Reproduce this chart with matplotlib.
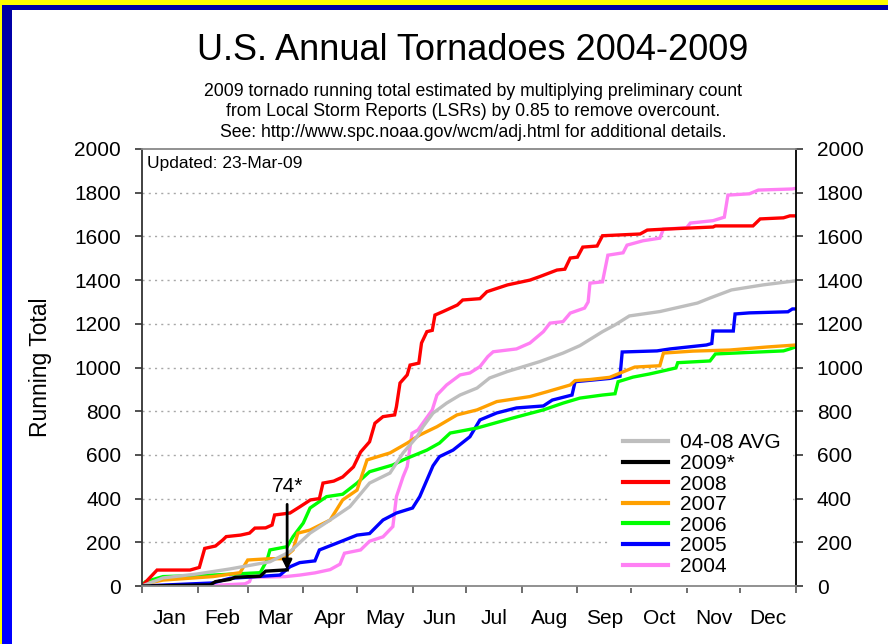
import numpy as np
import matplotlib
matplotlib.use("Agg")
import matplotlib.pyplot as plt
from matplotlib.patches import Rectangle
from matplotlib.colors import LinearSegmentedColormap

# ---------------- data (day of year, running total) ----------------
months = ["Jan", "Feb", "Mar", "Apr", "May", "Jun", "Jul", "Aug", "Sep", "Oct", "Nov", "Dec"]
month_starts = [0, 31, 59, 90, 120, 151, 181, 212, 243, 273, 304, 334, 365]
yticks = [0, 200, 400, 600, 800, 1000, 1200, 1400, 1600, 1800, 2000]

d2008 = [0, 8.4, 26.8, 32, 35, 41, 45, 47, 55, 60, 63, 69, 72.6, 74, 82.6, 88, 94, 99, 101, 107, 112, 118, 122,
         127, 130, 134.5, 141, 142, 144, 148, 149.6, 154.5, 156, 159, 162, 163.5, 168, 176, 179, 188.6, 192.5,
         204, 216.5, 222, 231.6, 236, 239, 243, 246, 254, 257, 278, 282, 291, 318.7, 320, 341, 345, 358, 361.6, 365]
v2008 = [0, 73, 73, 85, 172, 183, 210, 226, 233, 242, 265, 266, 279, 325, 334, 362, 394, 400, 471, 480, 499, 545, 613,
         660, 745, 775, 783, 821, 929, 966, 1011, 1020, 1112, 1164, 1170, 1240, 1256, 1286, 1309, 1315, 1347,
         1378, 1400, 1416, 1446, 1450, 1501, 1505, 1551, 1556, 1603, 1611, 1629, 1633, 1643, 1648, 1648, 1680, 1685, 1694, 1694]

d2004 = [0, 40.7, 57.5, 60, 61, 80, 88, 96.5, 105, 110.5, 113, 122, 127, 134.5, 140, 142, 145.7, 148, 150.7, 154,
         158, 162, 164.6, 170, 177.5, 183, 188.6, 193, 196, 209, 216.5, 224, 227.7, 235, 239, 247, 249, 250, 257,
         260, 268.5, 270.7, 279.6, 289, 291, 304, 306, 318.7, 325, 327, 339, 344, 362.8, 365]
v2004 = [0, 3, 10, 20, 40, 43, 50, 60, 75, 100, 150, 165, 205, 225, 272, 409, 500, 546, 699, 714,
         760, 806, 874, 920, 966, 975, 1004, 1050, 1072, 1085, 1112, 1164, 1203, 1210, 1249, 1272, 1300, 1386, 1392,
         1514, 1525, 1560, 1580, 1592, 1633, 1640, 1661, 1672, 1688, 1789, 1795, 1812, 1817, 1820]

davg = [0, 11.7, 30.7, 49, 71.4, 82.6, 93.8, 105, 116, 127, 138.4, 145.7, 153.5, 156.8, 162.4, 170, 177.5, 187,
        194, 203.7, 222, 235, 244.4, 257, 264, 272, 289, 310, 317, 329, 346.6, 365]
vavg = [0, 37, 55, 78, 111, 157, 242, 302, 363, 471, 517, 609, 683, 729, 791, 837, 874, 906,
        952, 981, 1027, 1066, 1100, 1164, 1195, 1236, 1256, 1295, 1318, 1355, 1378, 1397]

d2007 = [0, 4.5, 11.7, 39.6, 54.7, 59, 71.4, 78.7, 84.3, 87, 93.8, 105, 112, 120, 125.6, 138.4, 148, 155, 164.6,
         175.8, 187, 198, 216.5, 226, 239, 241.7, 250, 261, 275, 289, 291, 307.5, 328, 349, 365]
v2007 = [0, 15, 27, 43, 61, 119, 125, 125, 165, 242, 256, 302, 394, 439, 577, 609, 654, 691, 729,
         783, 806, 844, 867, 889, 920, 940, 945, 955, 1002, 1008, 1066, 1075, 1080, 1094, 1103]

d2006 = [0, 2, 11.7, 39.6, 66, 69.8, 71.4, 81, 84.3, 90, 93.8, 103, 112, 120, 127, 140, 145.7, 159, 166, 172,
         187, 207, 224, 235, 244.4, 257, 264, 265.7, 274, 283, 289, 298, 299, 317, 320, 358, 361.6, 365]
v2006 = [5, 20, 43, 50, 61, 119, 165, 180, 226, 288, 357, 409, 420, 471, 523, 554, 577, 622, 654, 700,
         723, 769, 806, 837, 860, 874, 880, 935, 956, 970, 981, 998, 1022, 1030, 1062, 1076, 1085, 1095]

d2005 = [0, 39.6, 49, 64, 77, 82.6, 88, 96.5, 99, 109, 120, 127, 134.5, 142, 151, 155, 159, 162.4, 166, 173.6,
         183, 188.6, 198, 209, 224, 229, 240, 241.7, 252, 261, 266.8, 268, 287.4, 294.7, 315, 318, 318.7, 330,
         331, 339, 360.5, 363, 365]
v2005 = [0, 14, 35, 43, 50, 88, 107, 115, 165, 197, 233, 240, 302, 334, 357, 409, 485, 550, 592, 622,
         683, 760, 792, 815, 824, 851, 874, 935, 943, 950, 960, 1071, 1076, 1085, 1103, 1110, 1167, 1167,
         1245, 1250, 1255, 1268, 1268]

d2009 = [0, 38, 41, 49, 52, 66, 69, 75, 81]
v2009 = [0, 5, 20, 30, 40, 45, 68, 71, 74]

series = [
    ("2004", d2004, v2004, "#FF80F4"),
    ("2005", d2005, v2005, "#0000FF"),
    ("2006", d2006, v2006, "#00FF00"),
    ("2007", d2007, v2007, "#FFA000"),
    ("2008", d2008, v2008, "#FF0000"),
    ("04-08 AVG", davg, vavg, "#BEBEBE"),
    ("2009*", d2009, v2009, "#000000"),
]
legend_order = ["04-08 AVG", "2009*", "2008", "2007", "2006", "2005", "2004"]

# ---------------- figure ----------------
W, H = 888, 644
fig = plt.figure(figsize=(W / 100, H / 100), dpi=100)
fig.patch.set_facecolor("white")

sans = ["Liberation Sans", "DejaVu Sans"]

ax = fig.add_axes([142 / W, (H - 586) / H, (796 - 142) / W, (586 - 149) / H])
ax.set_axisbelow(True)

handles = {}
for name, d, v, c in series:
    ln, = ax.plot(d, v, color=c, lw=2.4, label=name, solid_joinstyle="miter", zorder=2)
    handles[name] = ln

ax.set_xlim(0, 365)
ax.set_ylim(0, 2000)
ax.set_yticks(yticks)
ax.set_yticklabels([str(t) for t in yticks], family=sans, fontsize=15)
ax.set_xticks(month_starts)
ax.set_xticklabels([])
mids = [(month_starts[i] + month_starts[i + 1]) / 2 for i in range(12)]
ax.set_xticks(mids, minor=True)
ax.set_xticklabels(months, minor=True, family=sans, fontsize=15)
ax.tick_params(axis="x", which="minor", length=0, pad=16.5)
ax.tick_params(axis="x", which="major", length=5, width=1.2, color="#555555", direction="out")
ax.tick_params(axis="y", which="major", length=5, width=1.2, color="#333333", direction="out",
               left=True, right=True, labelleft=True, labelright=True, pad=10)
for lab in ax.get_yticklabels(which="both"):
    lab.set_family(sans)
ax.grid(axis="y", linestyle=(0, (1.5, 3)), color="#A8A8A8", lw=1.0)
for gl, t in zip(ax.yaxis.get_gridlines(), yticks):
    if t in (0, 2000):
        gl.set_visible(False)

ax.spines["left"].set_color("#333333")
ax.spines["right"].set_color("#000000")
ax.spines["top"].set_color("#888888")
ax.spines["bottom"].set_color("#888888")
for s in ax.spines.values():
    s.set_linewidth(1.3)

ax.set_ylabel("Running Total", family=sans, fontsize=16.5, labelpad=16)
ax.text(0.008, 0.985, "Updated: 23-Mar-09", transform=ax.transAxes, ha="left", va="top",
        family=sans, fontsize=12.5)

# annotation for 2009 total
ax.annotate(f"{v2009[-1]}*", xy=(d2009[-1], v2009[-1]), xytext=(0, 60), textcoords="offset points",
            ha="center", va="center", family=sans, fontsize=15,
            arrowprops=dict(arrowstyle="-|>", color="black", lw=2, shrinkA=4, shrinkB=0,
                            mutation_scale=14))

leg = ax.legend([handles[n] for n in legend_order], legend_order, loc="upper left",
                bbox_to_anchor=((610 - 142) / 654, (586 - 421) / 437), borderaxespad=0,
                frameon=True, fancybox=False, edgecolor="none", facecolor="white", framealpha=1,
                prop=dict(family=sans, size=15), handlelength=2.2, handletextpad=0.55,
                labelspacing=0.075, borderpad=0.6)
leg.set_zorder(2.2)
for lh in leg.get_lines():
    lh.set_linewidth(3)

# titles
fig.text(473 / W, 1 - 50 / H, "U.S. Annual Tornadoes 2004-2009", ha="center", va="center",
         family=sans, fontsize=26)
fig.text(473 / W, 1 - 112 / H,
         "2009 tornado running total estimated by multiplying preliminary count\n"
         "from Local Storm Reports (LSRs) by 0.85 to remove overcount.\n"
         "See: http://www.spc.noaa.gov/wcm/adj.html for additional details.",
         ha="center", va="center", family=sans, fontsize=12.7, linespacing=1.3)

# border frame
fig.patches.append(Rectangle((0, 1 - 5 / H), 1, 5 / H, transform=fig.transFigure,
                             facecolor="#FFFF00", edgecolor="none", zorder=10))
fig.patches.append(Rectangle((2 / W, 1 - 10 / H), 1, 5 / H, transform=fig.transFigure,
                             facecolor="#0000A8", edgecolor="none", zorder=10))
fig.patches.append(Rectangle((0, 0), 2 / W, 1, transform=fig.transFigure,
                             facecolor="#FFFF00", edgecolor="none", zorder=10))
bax = fig.add_axes([2 / W, 0, 9 / W, 1 - 5 / H])
bax.set_axis_off()
cmap = LinearSegmentedColormap.from_list("b", ["#0000FF", "#0000FF", "#0000A0"])
grad = np.linspace(0, 1, 200).reshape(-1, 1)
bax.imshow(grad, aspect="auto", cmap=cmap, origin="lower", extent=(0, 1, 0, 1))

fig.savefig("out.png", dpi=100, facecolor="white")
